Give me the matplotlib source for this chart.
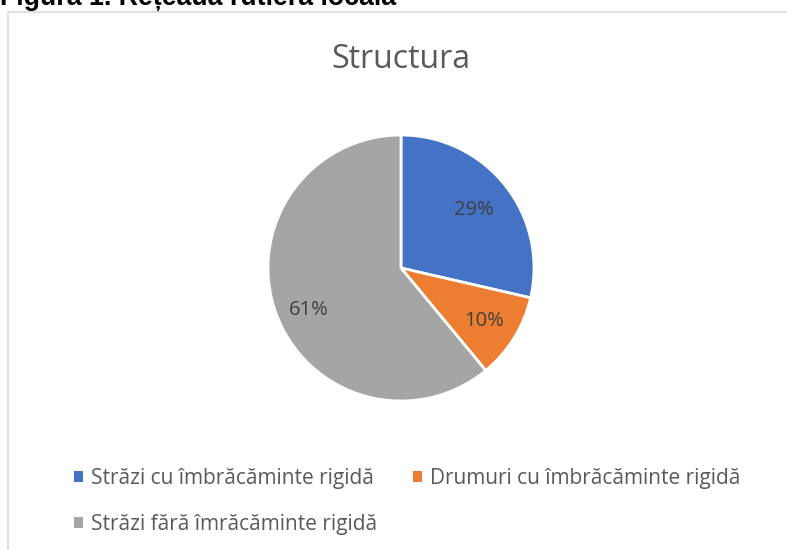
import numpy as np
import matplotlib
matplotlib.use("Agg")
import matplotlib.pyplot as plt
from matplotlib.patches import Rectangle, Patch

categories = ["Străzi cu îmbrăcăminte rigidă",
              "Drumuri cu îmbrăcăminte rigidă",
              "Străzi fără îmrăcăminte rigidă"]
values = [28.6, 10.4, 61.0]
colors = ["#4472C4", "#ED7D31", "#A5A5A5"]

W, H = 787, 550
fig = plt.figure(figsize=(W / 100, H / 100), dpi=100)
fig.patch.set_facecolor("white")

# chart border (extends past the right and bottom edges)
fig.patches.append(Rectangle((8 / W, -0.1), 1.0, 1 - 12 / H + 0.1,
                             transform=fig.transFigure, fill=False,
                             edgecolor="#D9D9D9", linewidth=1.2))

# header, clipped at the top edge as in the reference
fig.text(0 / W, 1 - 5 / H, "Figura 1. Rețeaua rutieră locală",
         fontsize=19.3, fontweight="bold", family="Liberation Sans",
         color="black", ha="left", va="baseline")

fig.text(401 / W, 1 - 68 / H, "Structura", fontsize=23, family="Open Sans",
         color="#595959", ha="center", va="baseline")

cx, cy, r = 401, 268, 133
ax = fig.add_axes([(cx - r) / W, (H - cy - r) / H, 2 * r / W, 2 * r / H])
wedges, texts, autotexts = ax.pie(
    values, colors=colors, startangle=90, counterclock=False,
    autopct=lambda p: f"{p:.0f}%", pctdistance=0.72,
    wedgeprops=dict(edgecolor="white", linewidth=2),
    textprops=dict(fontsize=14.5, family="Open Sans", color="#404040"))
# best-fit style label placement
label_dist = [0.70, 0.74, 0.76]
label_shift = [0, -1, 5]
for w, t, d, s in zip(wedges, autotexts, label_dist, label_shift):
    ang = np.deg2rad((w.theta1 + w.theta2) / 2 + s)
    t.set_position((d * np.cos(ang), d * np.sin(ang)))
ax.set_xlim(-1, 1)
ax.set_ylim(-1, 1)
ax.set_aspect("equal")
ax.axis("off")

handles = [Patch(facecolor=c, edgecolor="none") for c in colors]
order = [0, 2, 1]
leg = fig.legend([handles[i] for i in order], [categories[i] for i in order],
                 ncol=2, loc="upper left", bbox_to_anchor=(74 / W, 1 - 468 / H),
                 frameon=False, borderpad=0, borderaxespad=0,
                 handlelength=0.43, handleheight=0.43,
                 handletextpad=0.38, columnspacing=1.75, labelspacing=1.2,
                 prop=dict(family="Open Sans", size=15))
for t in leg.get_texts():
    t.set_color("#595959")

fig.savefig("out.png", dpi=100, facecolor="white")
